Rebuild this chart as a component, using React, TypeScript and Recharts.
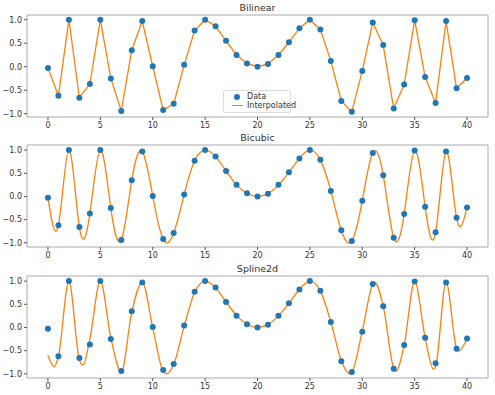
import React from "react";
import {
  ComposedChart,
  Line,
  XAxis,
  YAxis,
  ReferenceArea,
} from "recharts";

// sample points (x = 0..40)
const xs = [
  0, 1, 2, 3, 4, 5, 6, 7, 8, 9, 10, 11, 12, 13, 14, 15, 16, 17, 18, 19, 20,
  21, 22, 23, 24, 25, 26, 27, 28, 29, 30, 31, 32, 33, 34, 35, 36, 37, 38, 39,
  40,
];
const ys = [
  -0.03, -0.62, 1.0, -0.66, -0.37, 1.0, -0.25, -0.94, 0.35, 0.97, 0.01, -0.92,
  -0.79, 0.04, 0.77, 1.0, 0.86, 0.55, 0.25, 0.07, 0.0, 0.06, 0.25, 0.52, 0.82,
  1.0, 0.79, 0.12, -0.73, -0.96, -0.09, 0.94, 0.46, -0.89, -0.38, 0.99, -0.22,
  -0.77, 0.97, -0.46, -0.24,
];

// smoothing spline curve
const splineX = [
  0, 0.6, 1, 2, 3, 3.35, 4, 5, 6, 7, 8, 9, 10, 11, 11.3, 12, 13, 14, 15, 16,
  17, 18, 19, 20, 21, 22, 23, 24, 25, 26, 27, 28, 28.8, 29, 30, 31, 31.2, 32,
  33, 33.2, 34, 35, 36, 36.8, 37, 38, 39, 39.2, 40,
];
const splineY = [
  -0.6, -0.85, -0.62, 1.0, -0.7, -0.81, -0.25, 1.0, -0.22, -0.96, 0.33, 0.98,
  0.0, -0.95, -1.0, -0.8, 0.03, 0.76, 1.0, 0.86, 0.55, 0.26, 0.07, 0.0, 0.06,
  0.25, 0.52, 0.82, 1.0, 0.79, 0.12, -0.72, -1.0, -0.97, -0.08, 0.93, 0.97,
  0.46, -0.88, -0.95, -0.38, 1.0, -0.22, -0.9, -0.84, 0.98, -0.45, -0.51,
  -0.24,
];

const xTicks = [0, 5, 10, 15, 20, 25, 30, 35, 40];
const yTicks = [-1, -0.5, 0, 0.5, 1];

const points = xs.map((x, i) => ({ x, y: ys[i] }));
const linePoints = xs.map((x, i) => ({ x, v: ys[i] }));
const spline = splineX.map((x, i) => ({ x, v: splineY[i] }));

const BLUE = "#1f77b4";
const ORANGE = "#ff7f0e";
const FONT = "DejaVu Sans, sans-serif";

const fmt = (v: number) => v.toFixed(1).replace("-", "\u2212");

type PanelProps = {
  title: string;
  top: number;
  curve: { x: number; v: number }[];
  curveType: "linear" | "natural" | "monotone";
  yDomain: [number, number];
  legend?: boolean;
};

const Panel = ({ title, top, curve, curveType, yDomain, legend }: PanelProps) => (
  <div style={{ position: "absolute", left: 0, top, width: 495, height: 131 }}>
    <div
      style={{
        position: "absolute",
        left: 27,
        width: 461,
        top: 2,
        textAlign: "center",
        fontFamily: FONT,
        fontSize: 9.5,
        color: "#333",
      }}
    >
      {title}
    </div>
    <ComposedChart
      width={495}
      height={131}
      margin={{ top: 15, right: 7, bottom: 0, left: 5 }}
    >
      <XAxis
        dataKey="x"
        type="number"
        domain={[-2, 42]}
        ticks={xTicks}
        axisLine={false}
        tickSize={3}
        tickLine={{ stroke: "#555" }}
        tick={{ fontSize: 8, fill: "#333", fontFamily: FONT }}
        height={14}
        allowDataOverflow
      />
      <YAxis
        type="number"
        domain={yDomain}
        ticks={yTicks}
        tickFormatter={fmt}
        axisLine={false}
        tickSize={3}
        tickLine={{ stroke: "#555" }}
        tick={{ fontSize: 8, fill: "#333", fontFamily: FONT }}
        width={22}
        allowDataOverflow
      />
      <ReferenceArea
        x1={-2}
        x2={42}
        y1={yDomain[0]}
        y2={yDomain[1]}
        fill="none"
        stroke="#aaa"
        strokeWidth={1}
        ifOverflow="visible"
      />
      {/* data markers only, no connecting line */}
      <Line
        id={title + "-data"}
        data={points}
        dataKey="y"
        stroke="none"
        dot={{ r: 3, fill: BLUE, stroke: "none" }}
        activeDot={false}
        isAnimationActive={false}
      />
      <Line
        id={title + "-curve"}
        data={curve}
        dataKey="v"
        type={curveType}
        stroke={ORANGE}
        strokeWidth={1.3}
        dot={false}
        activeDot={false}
        isAnimationActive={false}
      />
    </ComposedChart>
    {legend && (
      <div
        style={{
          position: "absolute",
          left: 223,
          top: 90,
          width: 68,
          height: 23,
          border: "1px solid #ddd",
          borderRadius: 2,
          background: "rgba(255,255,255,0.8)",
          fontFamily: FONT,
          fontSize: 8,
          color: "#333",
          boxSizing: "border-box",
        }}
      >
        <div style={{ position: "absolute", left: 10, top: 3, width: 6, height: 6, borderRadius: 3, background: BLUE }} />
        <div style={{ position: "absolute", left: 23, top: 1 }}>Data</div>
        <div style={{ position: "absolute", left: 8, top: 14, width: 11, height: 1.3, background: ORANGE }} />
        <div style={{ position: "absolute", left: 23, top: 10 }}>Interpolated</div>
      </div>
    )}
  </div>
);

export default function App() {
  return (
    <div style={{ position: "absolute", left: 0, top: 0, width: 495, height: 395, background: "#fff" }}>
      <Panel title="Bilinear" top={0} curve={linePoints} curveType="linear" yDomain={[-1.07, 1.1]} legend />
      <Panel title="Bicubic" top={130} curve={linePoints} curveType="natural" yDomain={[-1.09, 1.11]} />
      <Panel title="Spline2d" top={261} curve={spline} curveType="monotone" yDomain={[-1.09, 1.11]} />
    </div>
  );
}
